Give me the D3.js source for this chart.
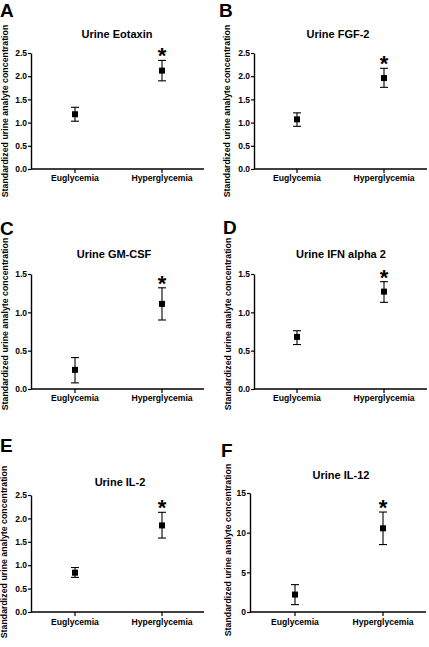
<!DOCTYPE html>
<html><head><meta charset="utf-8">
<script src="https://cdn.jsdelivr.net/npm/d3@7"></script>
<style>
html,body{margin:0;padding:0;background:#fff;}
svg{display:block;font-family:"Liberation Sans",Arial,sans-serif;font-weight:bold;}
</style></head>
<body>
<svg id="chart" width="429" height="647"></svg>
<script>
// ---- data ----
const categories = ["Euglycemia", "Hyperglycemia"];
const panelLetters = ["A", "B", "C", "D", "E", "F"];
const titles = ["Urine Eotaxin", "Urine  FGF-2", "Urine GM-CSF", "Urine  IFN alpha 2", "Urine  IL-2", "Urine IL-12"];
const meanValues = [[1.18, 2.12], [1.07, 1.96], [0.25, 1.11], [0.68, 1.27], [0.84, 1.85], [2.2, 10.55]];
const lowerValues = [[1.03, 1.90], [0.92, 1.76], [0.08, 0.90], [0.58, 1.13], [0.74, 1.58], [0.93, 8.5]];
const upperValues = [[1.33, 2.34], [1.21, 2.17], [0.41, 1.32], [0.76, 1.40], [0.95, 2.13], [3.45, 12.6]];
const yMax = [2.5, 2.5, 1.5, 1.5, 2.5, 15];
const yTicks = [
  [0, 0.5, 1.0, 1.5, 2.0, 2.5],
  [0, 0.5, 1.0, 1.5, 2.0, 2.5],
  [0, 0.5, 1.0, 1.5],
  [0, 0.5, 1.0, 1.5],
  [0, 0.5, 1.0, 1.5, 2.0, 2.5],
  [0, 5, 10, 15]
];
const yTickFormat = [".1f", ".1f", ".1f", ".1f", ".1f", "d"];
const significant = [[false, true], [false, true], [false, true], [false, true], [false, true], [false, true]];
const yAxisTitle = "Standardized urine analyte concentration";

// ---- layout (pixels) ----
const layout = [
  {ax: 31,  top: 53,  bottom: 169, xEnd: 204, cx: [75, 162],  title: [117, 38],  ytl: [5, 111],   letter: [0, 17],   catY: 181},
  {ax: 254, top: 53,  bottom: 169, xEnd: 427, cx: [297, 384], title: [338, 38],  ytl: [227, 111], letter: [219, 17], catY: 181},
  {ax: 31,  top: 274, bottom: 389, xEnd: 204, cx: [75, 162],  title: [114, 258], ytl: [5, 324],   letter: [0, 235],  catY: 401},
  {ax: 254, top: 274, bottom: 389, xEnd: 427, cx: [297, 384], title: [341, 258], ytl: [228, 324], letter: [223, 234], catY: 401},
  {ax: 31,  top: 495, bottom: 612, xEnd: 204, cx: [75, 162],  title: [120, 486], ytl: [4, 552],   letter: [0, 452],  catY: 625},
  {ax: 250, top: 493, bottom: 612, xEnd: 426, cx: [295, 383], title: [341, 479], ytl: [228, 550], letter: [221, 457], catY: 625}
];

const svg = d3.select("#chart");

layout.forEach((L, i) => {
  const g = svg.append("g");
  const y = d3.scaleLinear().domain([0, yMax[i]]).range([L.bottom, L.top]);
  const x = d3.scalePoint().domain(categories).range(L.cx);

  // y axis
  const yAx = g.append("g").attr("transform", `translate(${L.ax},0)`)
    .call(d3.axisLeft(y).tickValues(yTicks[i]).tickFormat(d3.format(yTickFormat[i])).tickSize(3).tickSizeOuter(0).tickPadding(1));
  yAx.select(".domain").attr("stroke", "#000").attr("stroke-width", 1.4);
  yAx.selectAll(".tick line").attr("stroke", "#000").attr("stroke-width", 1.2);
  yAx.selectAll(".tick text").attr("font-size", 8.5).attr("font-weight", "bold").attr("fill", "#000")
    .attr("font-family", "Liberation Sans, Arial, sans-serif");

  // x axis
  const xAx = g.append("g").attr("transform", `translate(0,${L.bottom})`);
  xAx.append("line").attr("x1", L.ax).attr("x2", L.xEnd).attr("y1", 0).attr("y2", 0)
    .attr("stroke", "#000").attr("stroke-width", 1.4);
  categories.forEach(c => {
    xAx.append("line").attr("x1", x(c)).attr("x2", x(c)).attr("y1", 0).attr("y2", 4)
      .attr("stroke", "#000").attr("stroke-width", 1.2);
    g.append("text").attr("x", x(c)).attr("y", L.catY).attr("text-anchor", "middle")
      .attr("font-size", 8.6).text(c);
  });

  // error bars and points
  categories.forEach((c, j) => {
    const cx = x(c);
    g.append("line").attr("x1", cx).attr("x2", cx).attr("y1", y(lowerValues[i][j])).attr("y2", y(upperValues[i][j]))
      .attr("stroke", "#000").attr("stroke-width", 1.1);
    [lowerValues[i][j], upperValues[i][j]].forEach(v => {
      g.append("line").attr("x1", cx - 4).attr("x2", cx + 4).attr("y1", y(v)).attr("y2", y(v))
        .attr("stroke", "#000").attr("stroke-width", 1.1);
    });
    g.append("rect").attr("x", cx - 3).attr("y", y(meanValues[i][j]) - 3).attr("width", 6).attr("height", 6).attr("fill", "#000");
    if (significant[i][j]) {
      g.append("text").attr("x", cx).attr("y", y(upperValues[i][j]) + 3).attr("text-anchor", "middle")
        .attr("font-size", 22).attr("font-weight", "bold").text("*");
    }
  });

  // title
  g.append("text").attr("x", L.title[0]).attr("y", L.title[1]).attr("text-anchor", "middle")
    .attr("font-size", 11).text(titles[i]);
  // y axis title
  g.append("text").attr("transform", `translate(${L.ytl[0] + 3},${L.ytl[1]}) rotate(-90)`)
    .attr("text-anchor", "middle").attr("font-size", 8.8).text(yAxisTitle);
  // panel letter
  g.append("text").attr("x", L.letter[0]).attr("y", L.letter[1]).attr("font-size", 19).text(panelLetters[i]);
});
</script>
</body></html>
